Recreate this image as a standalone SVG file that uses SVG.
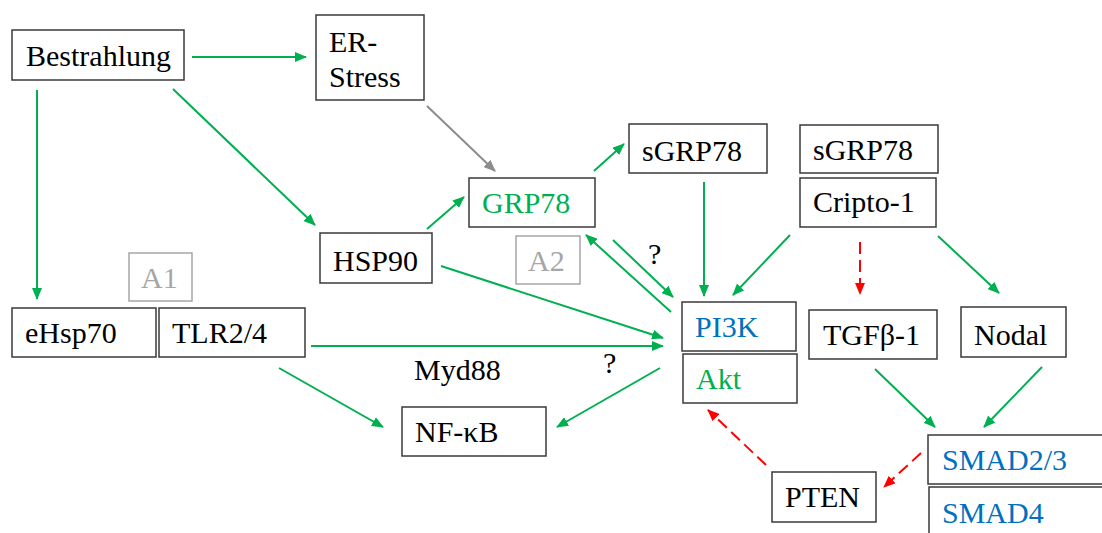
<svg xmlns="http://www.w3.org/2000/svg" width="1102" height="533" viewBox="0 0 1102 533">
<style>
.box{fill:#fff;stroke:#3a3a3a;stroke-width:1.5}
.gbox{fill:#fff;stroke:#a6a6a6;stroke-width:1.5}
text{font-family:"Liberation Serif","Times New Roman",serif;font-size:30px;fill:#000}
.tg{fill:#00b050}.tb{fill:#0070c0}.tgr{fill:#a6a6a6}
.cg{stroke:#00b050;stroke-width:2;fill:none}
.cgr{stroke:#8c8c8c;stroke-width:2;fill:none}
.cr{stroke:#ff0000;stroke-width:2;fill:none;stroke-dasharray:12,6}
</style>
<defs>
<marker id="ag" markerUnits="userSpaceOnUse" markerWidth="12" markerHeight="10" refX="11" refY="5" orient="auto"><path d="M0,0 L12,5 L0,10 z" fill="#00b050"/></marker>
<marker id="agr" markerUnits="userSpaceOnUse" markerWidth="12" markerHeight="10" refX="11" refY="5" orient="auto"><path d="M0,0 L12,5 L0,10 z" fill="#8c8c8c"/></marker>
<marker id="ar" markerUnits="userSpaceOnUse" markerWidth="12" markerHeight="10" refX="11" refY="5" orient="auto"><path d="M0,0 L12,5 L0,10 z" fill="#ff0000"/></marker>
</defs>
<rect width="1102" height="533" fill="#fff"/>
<g id="connectors">
<line class="cg" x1="192" y1="57" x2="306" y2="57" marker-end="url(#ag)"/>
<line class="cg" x1="173" y1="89" x2="315" y2="225" marker-end="url(#ag)"/>
<line class="cg" x1="37" y1="90" x2="37" y2="299" marker-end="url(#ag)"/>
<line class="cgr" x1="427" y1="106" x2="495" y2="171" marker-end="url(#agr)"/>
<line class="cg" x1="427" y1="229" x2="464" y2="197" marker-end="url(#ag)"/>
<line class="cg" x1="594" y1="171" x2="624" y2="144" marker-end="url(#ag)"/>
<line class="cg" x1="671" y1="312" x2="586" y2="235" marker-end="url(#ag)"/>
<line class="cg" x1="613" y1="240" x2="673" y2="297" marker-end="url(#ag)"/>
<line class="cg" x1="704" y1="182" x2="704" y2="296" marker-end="url(#ag)"/>
<line class="cg" x1="790" y1="235" x2="733" y2="295" marker-end="url(#ag)"/>
<line class="cg" x1="441" y1="266" x2="663" y2="338" marker-end="url(#ag)"/>
<line class="cg" x1="311" y1="346" x2="663" y2="346" marker-end="url(#ag)"/>
<line class="cg" x1="279" y1="368" x2="383" y2="427" marker-end="url(#ag)"/>
<line class="cg" x1="660" y1="368" x2="557" y2="427" marker-end="url(#ag)"/>
<line class="cr" x1="766" y1="465" x2="708" y2="410" marker-end="url(#ar)"/>
<line class="cr" x1="860" y1="242" x2="860" y2="294" marker-end="url(#ar)"/>
<line class="cg" x1="938" y1="236" x2="999" y2="293" marker-end="url(#ag)"/>
<line class="cg" x1="875" y1="369" x2="935" y2="427" marker-end="url(#ag)"/>
<line class="cg" x1="1042" y1="367" x2="984" y2="427" marker-end="url(#ag)"/>
<line class="cr" x1="921" y1="453" x2="884" y2="487" marker-end="url(#ar)"/>
</g>
<g id="labels">
<text x="648" y="264">?</text>
<text x="603" y="373">?</text>
<text x="414" y="380">Myd88</text>
</g>
<g id="bestrahlung"><rect class="box" x="12" y="30" width="172" height="50"/><text x="26" y="66">Bestrahlung</text></g>
<g id="er-stress"><rect class="box" x="316" y="15" width="108" height="85"/><text x="329" y="52">ER-</text><text x="329" y="87">Stress</text></g>
<g id="grp78"><rect class="box" x="469" y="178" width="126" height="49"/><text class="tg" x="482" y="213">GRP78</text></g>
<g id="sgrp78-a"><rect class="box" x="629" y="124" width="138" height="49"/><text x="642" y="161">sGRP78</text></g>
<g id="sgrp78-b"><rect class="box" x="800" y="125" width="138" height="48"/><text x="813" y="160">sGRP78</text></g>
<g id="cripto"><rect class="box" x="800" y="178" width="136" height="49"/><text x="813" y="212">Cripto-1</text></g>
<g id="a2"><rect class="gbox" x="516" y="236" width="64" height="48"/><text class="tgr" x="528" y="271">A2</text></g>
<g id="a1"><rect class="gbox" x="129" y="253" width="63" height="48"/><text class="tgr" x="141" y="288">A1</text></g>
<g id="hsp90"><rect class="box" x="320" y="233" width="112" height="50"/><text x="333" y="271">HSP90</text></g>
<g id="ehsp70"><rect class="box" x="12" y="308" width="144" height="49"/><text x="25" y="343">eHsp70</text></g>
<g id="tlr"><rect class="box" x="159" y="308" width="146" height="49"/><text x="172" y="343">TLR2/4</text></g>
<g id="pi3k"><rect class="box" x="682" y="302" width="114" height="49"/><text class="tb" x="695" y="337">PI3K</text></g>
<g id="akt"><rect class="box" x="683" y="354" width="114" height="49"/><text class="tg" x="696" y="389">Akt</text></g>
<g id="nfkb"><rect class="box" x="402" y="407" width="144" height="49"/><text x="415" y="442">NF-κB</text></g>
<g id="tgfb"><rect class="box" x="809" y="310" width="128" height="49"/><text x="823" y="345">TGFβ-1</text></g>
<g id="nodal"><rect class="box" x="961" y="307" width="105" height="50"/><text x="974" y="345">Nodal</text></g>
<g id="pten"><rect class="box" x="772" y="472" width="104" height="50"/><text x="785" y="507">PTEN</text></g>
<g id="smad23"><rect class="box" x="928" y="435" width="180" height="49"/><text class="tb" x="942" y="470">SMAD2/3</text></g>
<g id="smad4"><rect class="box" x="929" y="487" width="180" height="60"/><text class="tb" x="942" y="523">SMAD4</text></g>
</svg>
